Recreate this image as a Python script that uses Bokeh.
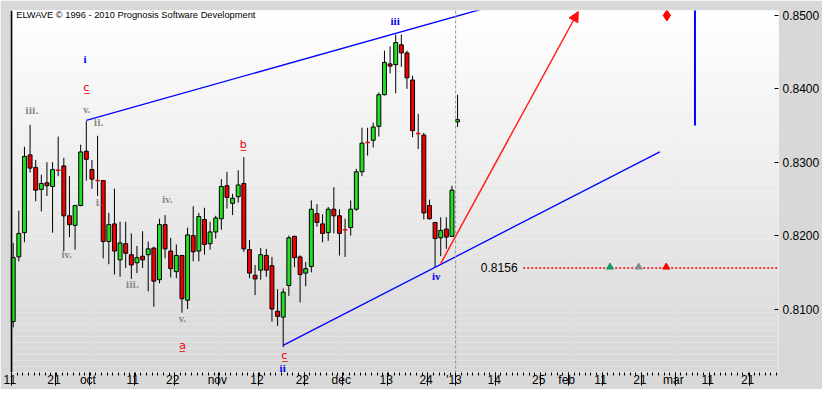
import numpy as np
from bokeh.plotting import figure
from bokeh.models import (ColumnDataSource, Range1d, FixedTicker, NumeralTickFormatter,
                          Span, Arrow, NormalHead)
from bokeh.core.properties import value
from bokeh.embed import file_html
from bokeh.resources import INLINE

# ---------------- data ----------------
opens = [0.8083, 0.8171, 0.8204, 0.8310, 0.8293, 0.8263, 0.8272, 0.8267, 0.8289, 0.8295,
         0.8227, 0.8214, 0.8241, 0.8315, 0.8290, 0.8275, 0.8275, 0.8192, 0.8216, 0.8167,
         0.8189, 0.8174, 0.8163, 0.8172, 0.8174, 0.8183, 0.8140, 0.8215, 0.8179, 0.8151,
         0.8173, 0.8112, 0.8200, 0.8179, 0.8222, 0.8189, 0.8205, 0.8223, 0.8268, 0.8244,
         0.8253, 0.8271, 0.8181, 0.8146, 0.8153, 0.8173, 0.8159, 0.8097, 0.8089, 0.8132,
         0.8199, 0.8171, 0.8149, 0.8158, 0.8230, 0.8216, 0.8204, 0.8236, 0.8227, 0.8208,
         0.8211, 0.8236, 0.8287, 0.8327, 0.8330, 0.8349, 0.8392, 0.8434, 0.8433, 0.8460,
         0.8449, 0.8412, 0.8339, 0.8337, 0.8241, 0.8218, 0.8197, 0.8209, 0.8199, 0.8355]
highs = [0.8190, 0.8234, 0.8321, 0.8351, 0.8303, 0.8283, 0.8300, 0.8300, 0.8335, 0.8306,
         0.8281, 0.8242, 0.8324, 0.8356, 0.8303, 0.8336, 0.8275, 0.8231, 0.8264, 0.8219,
         0.8219, 0.8203, 0.8186, 0.8206, 0.8192, 0.8185, 0.8223, 0.8228, 0.8197, 0.8188,
         0.8173, 0.8211, 0.8240, 0.8231, 0.8238, 0.8219, 0.8227, 0.8277, 0.8287, 0.8257,
         0.8289, 0.8307, 0.8194, 0.8160, 0.8183, 0.8182, 0.8171, 0.8127, 0.8128, 0.8200,
         0.8200, 0.8173, 0.8164, 0.8248, 0.8243, 0.8229, 0.8239, 0.8266, 0.8236, 0.8223,
         0.8248, 0.8291, 0.8347, 0.8347, 0.8354, 0.8395, 0.8452, 0.8458, 0.8474, 0.8474,
         0.8452, 0.8418, 0.8366, 0.8340, 0.8249, 0.8218, 0.8225, 0.8225, 0.8268, 0.8392]
lows = [0.8075, 0.8165, 0.8191, 0.8286, 0.8247, 0.8233, 0.8254, 0.8204, 0.8281, 0.8179,
        0.8198, 0.8181, 0.8240, 0.8275, 0.8264, 0.8254, 0.8169, 0.8161, 0.8147, 0.8144,
        0.8156, 0.8141, 0.8149, 0.8156, 0.8124, 0.8103, 0.8135, 0.8169, 0.8143, 0.8142,
        0.8095, 0.8100, 0.8165, 0.8165, 0.8174, 0.8181, 0.8196, 0.8208, 0.8237, 0.8228,
        0.8245, 0.8178, 0.8142, 0.8119, 0.8140, 0.8144, 0.8083, 0.8077, 0.8048, 0.8118,
        0.8157, 0.8109, 0.8131, 0.8150, 0.8212, 0.8191, 0.8193, 0.8203, 0.8173, 0.8171,
        0.8200, 0.8234, 0.8281, 0.8309, 0.8320, 0.8335, 0.8391, 0.8421, 0.8394, 0.8430,
        0.8400, 0.8334, 0.8318, 0.8222, 0.8222, 0.8157, 0.8172, 0.8182, 0.8198, 0.8348]
closes = [0.8170, 0.8203, 0.8308, 0.8292, 0.8262, 0.8271, 0.8268, 0.8290, 0.8289, 0.8227,
          0.8215, 0.8241, 0.8314, 0.8304, 0.8277, 0.8275, 0.8192, 0.8215, 0.8179, 0.8190,
          0.8176, 0.8160, 0.8170, 0.8167, 0.8182, 0.8138, 0.8215, 0.8182, 0.8155, 0.8173,
          0.8114, 0.8201, 0.8178, 0.8226, 0.8188, 0.8205, 0.8224, 0.8267, 0.8252, 0.8251,
          0.8269, 0.8182, 0.8149, 0.8141, 0.8174, 0.8153, 0.8100, 0.8090, 0.8123, 0.8197,
          0.8170, 0.8147, 0.8155, 0.8236, 0.8218, 0.8203, 0.8236, 0.8227, 0.8203, 0.8208,
          0.8236, 0.8287, 0.8326, 0.8327, 0.8348, 0.8392, 0.8436, 0.8431, 0.8463, 0.8449,
          0.8415, 0.8343, 0.8339, 0.8231, 0.8223, 0.8196, 0.8207, 0.8198, 0.8262, 0.8358]

x_tick_pos = [-0.30, 7.55, 13.58, 21.56, 28.65, 36.58, 43.62, 51.70, 58.62, 66.60,
              73.69, 78.65, 85.82, 93.72, 98.69, 104.72, 111.70, 117.66, 123.76, 130.85]
x_tick_labels = ["11", "21", "oct", "11", "22", "nov", "12", "22", "dec", "13",
                 "24", "'13", "14", "25", "feb", "11", "21", "mar", "11", "21"]
price_ticks = [0.81, 0.82, 0.83, 0.84, 0.85]
month_lines = [13.58, 36.58, 58.62, 98.69, 117.66]
year_line = 78.65

upper_x = [13.0, 83.0]
upper_y = [0.8357, 0.8508]
lower_x = [47.98, 114.95]
lower_y = [0.80504, 0.83142]
proj_x = [76.0, 100.46]
proj_y = [0.8162, 0.85054]
target_level = 0.8156
target_label = "0.8156"
target_start = 90.66
tri_x = [106.1, 111.2, 116.1]
tri_colors = ["#1a9a6a", "#8a8a8a", "#ff0000"]
diamond_x = [116.2]
diamond_y = [0.8500]
vline_x = [121.2, 121.2]
vline_y = [0.8508, 0.8350]

gray_lbl_x = [3.33, 13.1, 15.2, 15.25, 9.5, 21.2, 27.4, 30.1]
gray_lbl_y = [0.83696, 0.83716, 0.83534, 0.82446, 0.81730, 0.81334, 0.82482, 0.80869]
gray_lbl_t = ["iii.", "v.", "ii.", "i.", "iv.", "iii.", "iv.", "v."]

red_lbl_x = [13.0, 40.9, 30.1, 48.2]
red_lbl_y = [0.84020, 0.83247, 0.80500, 0.80372]
red_lbl_t = ["c", "b", "a", "c"]

blue_lbl_x = [12.77, 67.9, 75.2, 47.9]
blue_lbl_y = [0.84405, 0.84919, 0.81446, 0.80200]
blue_lbl_t = ["i", "iii", "iv", "ii"]

title_text = "ELWAVE \u00a9 1996 - 2010 Prognosis Software Development"

# ---------------- figure ----------------
X0, X1 = -0.48, 136.05
Y0, Y1 = 0.801351, 0.850676

p = figure(width=822, height=389, output_backend="svg", toolbar_location=None,
           x_range=Range1d(X0, X1), y_range=Range1d(Y0, Y1),
           y_axis_location="right", title=None,
           min_border_left=10, min_border_top=10, min_border_right=42, min_border_bottom=14)
p.border_fill_color = "#d8d8d8"
p.background_fill_color = "white"
p.outline_line_color = None

# gradient background
edges = np.linspace(Y1, Y0, 61)
shades = np.linspace(255, 216, 60).astype(int)
grad_colors = ["#%02x%02x%02x" % (s, s, s) for s in shades]
p.quad(left=X0 - 1, right=X1 + 1, top=edges[:-1], bottom=edges[1:],
       fill_color=grad_colors, line_color=None)

# grids
p.ygrid.ticker = FixedTicker(ticks=price_ticks)
p.ygrid.grid_line_color = "black"
p.ygrid.grid_line_dash = "4 3"
p.ygrid.grid_line_width = 1
p.xgrid.ticker = FixedTicker(ticks=month_lines)
p.xgrid.grid_line_color = "#909090"
p.xgrid.grid_line_dash = "1 2"
p.xgrid.grid_line_width = 1
p.add_layout(Span(location=year_line, dimension="height", line_color="#909090",
                  line_dash="3 2", line_width=1))
p.add_layout(Span(location=X0 + 0.15, dimension="height", line_color="black", line_width=2))

# axes
xa = p.xaxis[0]
xa.ticker = FixedTicker(ticks=x_tick_pos, minor_ticks=[k - 0.3 for k in range(0, 137)])
xa.major_label_overrides = {t: " " + l for t, l in zip(x_tick_pos, x_tick_labels)}
xa.major_label_text_align = "left"
xa.major_label_text_font = "Liberation Sans"
xa.major_label_text_font_size = "12px"
xa.major_label_text_color = "black"
xa.major_tick_out = 13
xa.major_tick_in = 0
xa.minor_tick_out = 3
xa.minor_tick_in = 0
xa.major_tick_line_color = "black"
xa.minor_tick_line_color = "black"
xa.axis_line_color = None
xa.major_label_standoff = -13

ya = p.yaxis[0]
ya.ticker = FixedTicker(ticks=price_ticks, minor_ticks=[])
ya.formatter = NumeralTickFormatter(format="0.0000")
ya.major_label_text_font = "Liberation Sans"
ya.major_label_text_font_size = "12px"
ya.major_label_text_color = "black"
ya.major_tick_in = 4
ya.major_tick_out = 0
ya.minor_tick_in = 0
ya.minor_tick_out = 0
ya.axis_line_color = None
ya.major_label_standoff = 4

# candles
idx = list(range(len(opens)))
src = ColumnDataSource(dict(x=idx, o=opens, h=highs, l=lows, c=closes))
p.segment(x0="x", y0="h", x1="x", y1="l", source=src, line_color="black", line_width=1)

up = [i for i in idx if closes[i] > opens[i]]
dn = [i for i in idx if closes[i] < opens[i]]
dj = [i for i in idx if closes[i] == opens[i]]
p.vbar(x=up, width=0.7, top=[closes[i] for i in up], bottom=[opens[i] for i in up],
       fill_color="#22e022", line_color="black", line_width=1)
p.vbar(x=dn, width=0.7, top=[opens[i] for i in dn], bottom=[closes[i] for i in dn],
       fill_color="#f00000", line_color="black", line_width=1)
p.segment(x0=[i - 0.4 for i in dj], x1=[i + 0.4 for i in dj],
          y0=[opens[i] for i in dj], y1=[opens[i] for i in dj],
          line_color="#f00000", line_width=1.5)

# channel lines
p.line(upper_x, upper_y, line_color="#0000ff", line_width=1.3)
p.line(lower_x, lower_y, line_color="#0000ff", line_width=1.3)

# projection arrow
p.add_layout(Arrow(end=NormalHead(size=10, fill_color="#ff1010", line_color="#ff1010"),
                   x_start=proj_x[0], y_start=proj_y[0], x_end=proj_x[1], y_end=proj_y[1],
                   line_color="#ff2020", line_width=1.5))

# target level
p.line([target_start, X1 + 1], [target_level, target_level], line_color="#ff0000",
       line_dash="2 2", line_width=1.5)
p.text(x=[target_start - 1.0], y=[target_level], text=[target_label],
       text_align="right", text_baseline="middle", text_font=value("Liberation Sans"),
       text_font_size="12px", text_color="black")
p.scatter(x=tri_x, y=[target_level + 0.00012] * len(tri_x), marker="triangle", size=7,
          fill_color=tri_colors, line_color=tri_colors)
p.scatter(x=diamond_x, y=diamond_y, marker="diamond", size=11,
          fill_color="#ff0000", line_color="#ff0000")
p.line(vline_x, vline_y, line_color="#0000ff", line_width=2)

# title text
p.text(x=[0.53], y=[0.8500], text=[title_text], text_align="left", text_baseline="middle",
       text_font=value("Liberation Sans"), text_font_size="9.3px", text_color="black")

# wave labels
p.text(x=gray_lbl_x, y=gray_lbl_y, text=gray_lbl_t, text_align="center",
       text_baseline="middle", text_font=value("DejaVu Serif"), text_font_size="9px",
       text_font_style="bold", text_color="#8a8a8a")
p.text(x=red_lbl_x, y=red_lbl_y, text=[t + "\u0332" for t in red_lbl_t],
       text_align="center", text_baseline="middle", text_font=value("DejaVu Sans"),
       text_font_size="11px", text_color="#ee0000")
p.text(x=blue_lbl_x, y=blue_lbl_y, text=blue_lbl_t, text_align="center",
       text_baseline="middle", text_font=value("Liberation Serif"), text_font_size="11px",
       text_font_style="bold", text_color="#0000ee")

open("out.html", "w").write(file_html(p, INLINE))
